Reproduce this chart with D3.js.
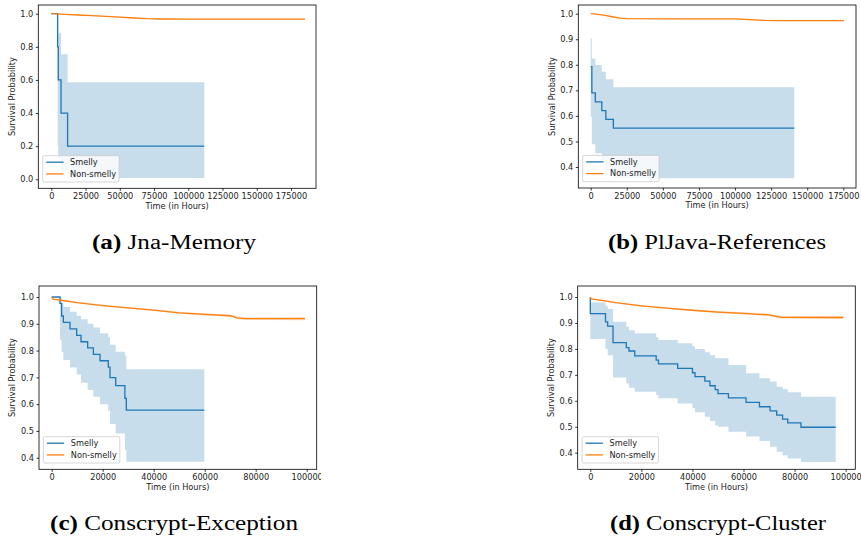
<!DOCTYPE html>
<html><head><meta charset="utf-8">
<script src="https://cdn.jsdelivr.net/npm/d3@7"></script>
<style>body{margin:0;background:#fff}svg{display:block}</style>
</head><body><svg id="chart" width="861" height="545"></svg>
<script>
// ---------------- DATA ----------------
const panelNames = ["Jna-Memory", "PlJava-References", "Conscrypt-Exception", "Conscrypt-Cluster"];
const panelLetters = ["(a)", "(b)", "(c)", "(d)"];
const seriesNames = ["Smelly", "Non-smelly"];
const xTicksWide = [0, 25000, 50000, 75000, 100000, 125000, 150000, 175000];
const xTicksNarrow = [0, 20000, 40000, 60000, 80000, 100000];
const yTicksFull = [0.0, 0.2, 0.4, 0.6, 0.8, 1.0];
const yTicksUpper = [0.4, 0.5, 0.6, 0.7, 0.8, 0.9, 1.0];

// (a) Jna-Memory
const aSmellyT  = [0, 4600, 5100, 7100, 11900, 111700];
const aSmellyS  = [1.0, 0.8, 0.6, 0.4, 0.2, 0.2];
const aSmellyLo = [1.0, 0.204, 0.126, 0.052, 0.008, 0.008];
const aSmellyHi = [1.0, 0.969, 0.882, 0.755, 0.586, 0.586];
const aNonT  = [0, 10000, 20000, 30000, 40000, 50000, 60000, 70000, 80000, 100000, 130000, 185240];
const aNonS  = [1.0, 0.996, 0.992, 0.988, 0.984, 0.979, 0.974, 0.970, 0.968, 0.967, 0.967, 0.967];
const aNonLo = [1.0, 0.995, 0.990, 0.986, 0.982, 0.977, 0.972, 0.968, 0.966, 0.965, 0.965, 0.965];
const aNonHi = [1.0, 0.997, 0.994, 0.990, 0.986, 0.981, 0.976, 0.972, 0.970, 0.969, 0.969, 0.969];

// (b) PlJava-References
const bSmellyT  = [0, 800, 3200, 7700, 10500, 15700, 141000];
const bSmellyS  = [0.793, 0.690, 0.655, 0.621, 0.586, 0.552, 0.552];
const bSmellyLo = [0.597, 0.489, 0.454, 0.420, 0.385, 0.356, 0.356];
const bSmellyHi = [0.904, 0.825, 0.799, 0.773, 0.743, 0.712, 0.712];
const bNonT  = [0, 5000, 10000, 15000, 20000, 25000, 60000, 100000, 110000, 120000, 130000, 175500];
const bNonS  = [1.0, 0.997, 0.993, 0.988, 0.983, 0.981, 0.980, 0.980, 0.977, 0.974, 0.973, 0.973];
const bNonLo = [1.0, 0.996, 0.992, 0.986, 0.981, 0.979, 0.978, 0.978, 0.975, 0.972, 0.971, 0.971];
const bNonHi = [1.0, 0.998, 0.994, 0.990, 0.985, 0.983, 0.982, 0.982, 0.979, 0.976, 0.975, 0.975];

// (c) Conscrypt-Exception
const cSmellyT  = [0, 3250, 3900, 4570, 7180, 9800, 11500, 14100, 16340, 18950, 22200, 22860, 25100, 28700, 29260, 59840];
const cSmellyS  = [1.0, 0.976, 0.929, 0.905, 0.881, 0.857, 0.833, 0.810, 0.786, 0.762, 0.738, 0.699, 0.669, 0.622, 0.578, 0.578];
const cSmellyLo = [1.0, 0.840, 0.795, 0.765, 0.737, 0.711, 0.680, 0.653, 0.628, 0.600, 0.575, 0.526, 0.491, 0.430, 0.385, 0.385];
const cSmellyHi = [1.0, 0.997, 0.976, 0.963, 0.945, 0.930, 0.917, 0.900, 0.886, 0.865, 0.850, 0.822, 0.796, 0.782, 0.730, 0.730];
const cNonT  = [0, 500, 5000, 10000, 20000, 30000, 40000, 50000, 60000, 70000, 71000, 72500, 76000, 99300];
const cNonS  = [1.0, 0.992, 0.986, 0.979, 0.968, 0.959, 0.951, 0.941, 0.935, 0.930, 0.928, 0.922, 0.919, 0.919];
const cNonLo = [1.0, 0.991, 0.984, 0.977, 0.965, 0.956, 0.948, 0.937, 0.931, 0.926, 0.924, 0.917, 0.914, 0.913];
const cNonHi = [1.0, 0.993, 0.988, 0.981, 0.971, 0.962, 0.954, 0.945, 0.939, 0.934, 0.932, 0.927, 0.924, 0.925];

// (d) Conscrypt-Cluster
const dSmellyT  = [0, 0, 5950, 6800, 8900, 14100, 15150, 17400, 25800, 26700, 34200, 40000, 41000, 44850, 46850, 48900, 50000, 54100, 61000, 66250, 70400, 73000, 75300, 77300, 82500, 96100];
const dSmellyS  = [1.0, 0.936, 0.904, 0.888, 0.824, 0.805, 0.792, 0.773, 0.757, 0.742, 0.725, 0.708, 0.693, 0.676, 0.658, 0.643, 0.628, 0.611, 0.594, 0.577, 0.561, 0.545, 0.529, 0.515, 0.498, 0.498];
const dSmellyLo = [1.0, 0.838, 0.800, 0.776, 0.690, 0.667, 0.650, 0.635, 0.622, 0.610, 0.590, 0.572, 0.556, 0.539, 0.522, 0.505, 0.500, 0.481, 0.462, 0.445, 0.423, 0.404, 0.390, 0.378, 0.364, 0.364];
const dSmellyHi = [1.0, 0.979, 0.966, 0.954, 0.905, 0.885, 0.872, 0.860, 0.845, 0.834, 0.822, 0.810, 0.800, 0.787, 0.776, 0.764, 0.764, 0.738, 0.706, 0.687, 0.674, 0.654, 0.645, 0.633, 0.616, 0.616];
const dNonT  = [0, 300, 5000, 10000, 20000, 30000, 40000, 50000, 60000, 70000, 71000, 73000, 75000, 99100];
const dNonS  = [1.0, 0.993, 0.986, 0.978, 0.966, 0.957, 0.949, 0.942, 0.937, 0.931, 0.929, 0.924, 0.922, 0.921];
const dNonLo = [1.0, 0.992, 0.984, 0.976, 0.963, 0.954, 0.946, 0.938, 0.933, 0.927, 0.925, 0.919, 0.917, 0.915];
const dNonHi = [1.0, 0.994, 0.988, 0.980, 0.969, 0.960, 0.952, 0.946, 0.941, 0.935, 0.933, 0.929, 0.927, 0.927];

// ---------------- LAYOUT ----------------
const BLUE = "#1f77b4", ORANGE = "#ff7f0e";
const FONT = "DejaVu Sans";
const zip = (T, S, L, H) => T.map((t, i) => ({t, s: S[i], lo: L[i], hi: H[i]}));

const panels = [
  {box: [38.3, 5, 316, 188.3], xDom: [-9492, 193270], yDom: [-0.0543, 1.0525], xt: xTicksWide, yt: yTicksFull,
   smelly: zip(aSmellyT, aSmellyS, aSmellyLo, aSmellyHi), non: zip(aNonT, aNonS, aNonLo, aNonHi),
   cap: {cx: 174, y: 249, w: 164}, clipW: 861},
  {box: [578.3, 5, 856, 188], xDom: [-8590, 183780], yDom: [0.3178, 1.034], xt: xTicksWide, yt: yTicksUpper,
   smelly: zip(bSmellyT, bSmellyS, bSmellyLo, bSmellyHi), non: zip(bNonT, bNonS, bNonLo, bNonHi),
   cap: {cx: 717, y: 249, w: 218}, clipW: 861},
  {box: [39, 286, 316.7, 469.3], xDom: [-4980, 103920], yDom: [0.357, 1.041], xt: xTicksNarrow, yt: yTicksUpper,
   smelly: zip(cSmellyT, cSmellyS, cSmellyLo, cSmellyHi), non: zip(cNonT, cNonS, cNonLo, cNonHi),
   cap: {cx: 174, y: 530, w: 248}, clipW: 321},
  {box: [577.7, 286, 855.3, 469.3], xDom: [-4934, 103780], yDom: [0.336, 1.0424], xt: xTicksNarrow, yt: yTicksUpper,
   smelly: zip(dSmellyT, dSmellyS, dSmellyLo, dSmellyHi), non: zip(dNonT, dNonS, dNonLo, dNonHi),
   cap: {cx: 718, y: 530, w: 216}, clipW: 861}
];

const svg = d3.select("#chart");
svg.append("rect").attr("width", 861).attr("height", 545).attr("fill", "#fff");
const defs = svg.append("defs");

panels.forEach((p, i) => {
  const [x0, y0, x1, y1] = p.box;
  defs.append("clipPath").attr("id", "pc" + i).append("rect")
    .attr("x", 0).attr("y", 0).attr("width", p.clipW).attr("height", 545);
  const g = svg.append("g").attr("clip-path", `url(#pc${i})`);
  const x = d3.scaleLinear().domain(p.xDom).range([x0, x1]);
  const y = d3.scaleLinear().domain(p.yDom).range([y1, y0]);

  const area = d3.area().x(d => x(d.t)).y0(d => y(d.lo)).y1(d => y(d.hi)).curve(d3.curveStepAfter);
  const stepLine = d3.line().x(d => x(d.t)).y(d => y(d.s)).curve(d3.curveStepAfter);
  const smoothLine = d3.line().x(d => x(d.t)).y(d => y(d.s));
  const smoothArea = d3.area().x(d => x(d.t)).y0(d => y(d.lo)).y1(d => y(d.hi));

  g.append("path").attr("d", area(p.smelly)).attr("fill", BLUE).attr("fill-opacity", 0.25);
  g.append("path").attr("d", smoothArea(p.non)).attr("fill", ORANGE).attr("fill-opacity", 0.25);
  g.append("path").attr("d", stepLine(p.smelly)).attr("fill", "none").attr("stroke", BLUE).attr("stroke-width", 1.3);
  g.append("path").attr("d", smoothLine(p.non)).attr("fill", "none").attr("stroke", ORANGE).attr("stroke-width", 1.3);

  const xa = g.append("g").attr("transform", `translate(0,${y1})`)
    .call(d3.axisBottom(x).tickValues(p.xt).tickFormat(d3.format("d")).tickSize(2.5).tickSizeOuter(0).tickPadding(2.2));
  const ya = g.append("g").attr("transform", `translate(${x0},0)`)
    .call(d3.axisLeft(y).tickValues(p.yt).tickFormat(d3.format(".1f")).tickSize(2.5).tickSizeOuter(0).tickPadding(2.6));
  [xa, ya].forEach(a => {
    a.select(".domain").remove();
    a.selectAll("line").attr("stroke", "#000").attr("stroke-width", 0.8);
    a.selectAll("text").attr("font-family", FONT).attr("font-size", 8.2).attr("fill", "#222");
  });

  g.append("rect").attr("x", x0).attr("y", y0).attr("width", x1 - x0).attr("height", y1 - y0)
    .attr("fill", "none").attr("stroke", "#000").attr("stroke-width", 0.8);

  g.append("text").attr("x", (x0 + x1) / 2).attr("y", y1 + 20.2).attr("text-anchor", "middle")
    .attr("font-family", FONT).attr("font-size", 8.2).attr("fill", "#222").text("Time (in Hours)");
  g.append("text").attr("transform", `translate(${x0 - 26.6},${(y0 + y1) / 2}) rotate(-90)`)
    .attr("text-anchor", "middle").attr("dominant-baseline", "central")
    .attr("font-family", FONT).attr("font-size", 8.2).attr("fill", "#222").text("Survival Probability");

  const lg = g.append("g").attr("transform", `translate(${x0 + 4.4},${y1 - 32.6})`);
  lg.append("rect").attr("width", 76.4).attr("height", 26.3).attr("rx", 1.5)
    .attr("fill", "#fff").attr("fill-opacity", 0.8).attr("stroke", "#cccccc").attr("stroke-width", 0.8);
  [BLUE, ORANGE].forEach((c, k) => {
    const yy = 6.5 + k * 11.7;
    lg.append("line").attr("x1", 3.5).attr("x2", 20.8).attr("y1", yy).attr("y2", yy)
      .attr("stroke", c).attr("stroke-width", 1.3);
    lg.append("text").attr("x", 27.4).attr("y", yy).attr("dy", "0.35em")
      .attr("font-family", FONT).attr("font-size", 8.2).attr("fill", "#222").text(seriesNames[k]);
  });

  const cap = svg.append("text").attr("x", p.cap.cx).attr("y", p.cap.y).attr("text-anchor", "middle")
    .attr("font-family", "'Liberation Serif', serif").attr("font-size", 20.5).attr("fill", "#000")
    .attr("textLength", p.cap.w).attr("lengthAdjust", "spacingAndGlyphs");
  cap.append("tspan").attr("font-weight", "bold").text(panelLetters[i]);
  cap.append("tspan").text(" " + panelNames[i]);
});
</script></body></html>
